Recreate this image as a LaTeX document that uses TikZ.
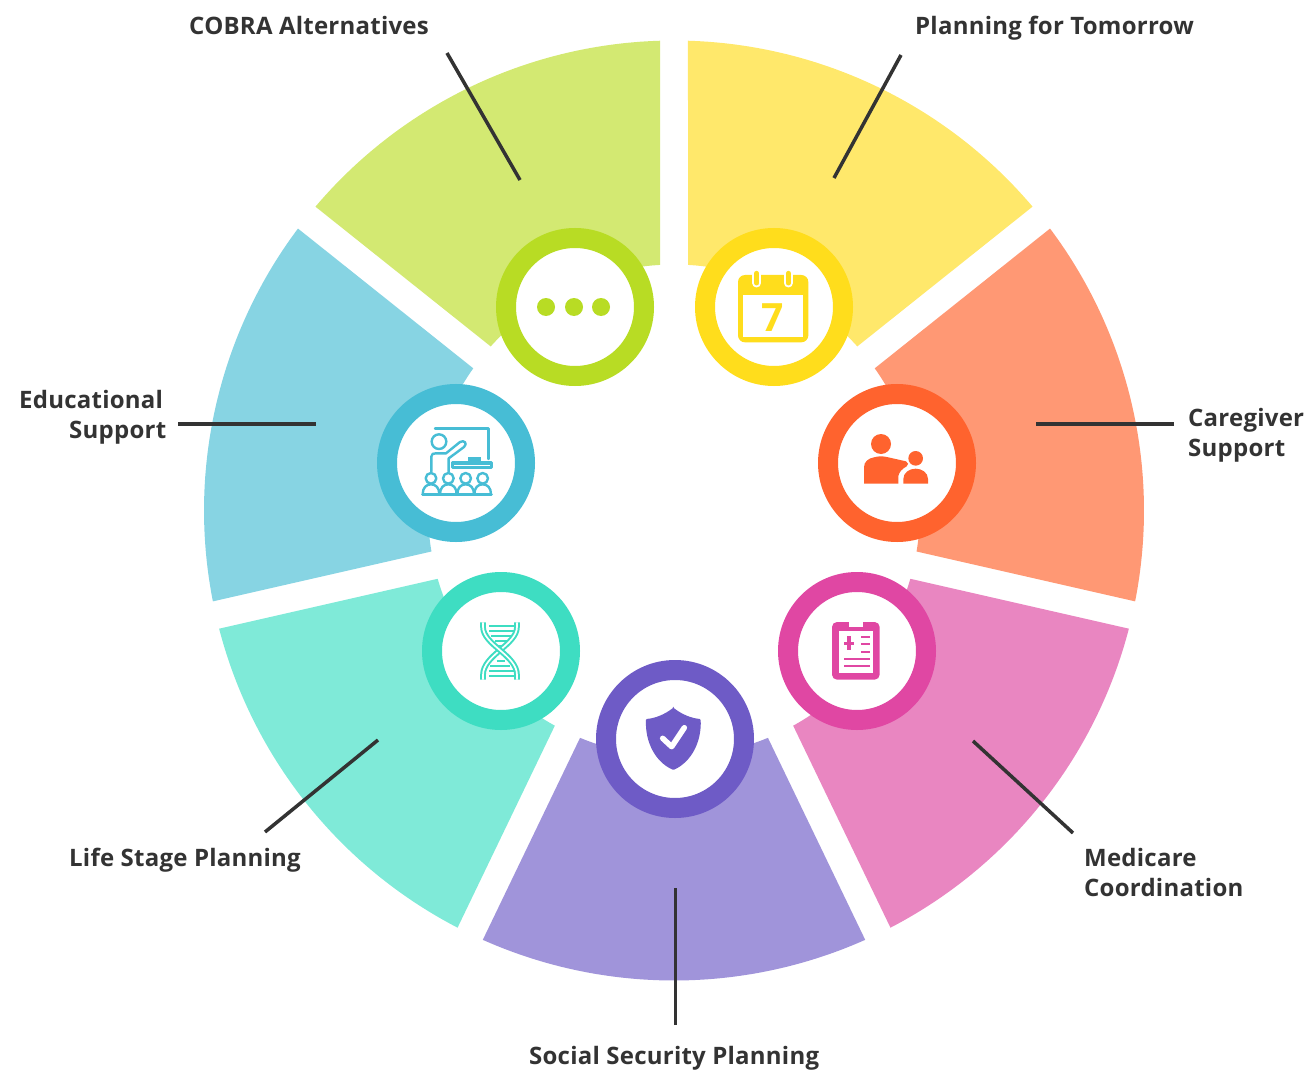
\documentclass[tikz,border=0pt]{standalone}
\usepackage{fontspec}
\setmainfont{Open Sans}[BoldFont={* Bold},LetterSpace=1]
\definecolor{ink}{HTML}{333333}
\definecolor{yellowS}{HTML}{FFE86B}\definecolor{yellowR}{HTML}{FFDD1C}
\definecolor{orangeS}{HTML}{FF9874}\definecolor{orangeR}{HTML}{FF632E}
\definecolor{pinkS}{HTML}{E986C1}\definecolor{pinkR}{HTML}{E047A3}
\definecolor{purpleS}{HTML}{A094DA}\definecolor{purpleR}{HTML}{6E5BC6}
\definecolor{tealS}{HTML}{7FEAD8}\definecolor{tealR}{HTML}{3EDDC2}
\definecolor{blueS}{HTML}{87D4E3}\definecolor{blueR}{HTML}{47BDD5}
\definecolor{limeS}{HTML}{D3E972}\definecolor{limeR}{HTML}{B8DC24}
\tikzset{
  ring/.style={circle,draw=#1,fill=white,line width=20pt,minimum size=138pt,inner sep=0pt,outer sep=0pt},
  lbl/.style={font=\fontsize{24}{30}\selectfont\bfseries,text=ink,anchor=base west,inner sep=0pt,align=left},
  leader/.style={draw=ink,line width=3.5pt},
  zoomed/.style={scale=1/3}
}
\newcommand{\sector}[3]{% colour, start gap angle, end gap angle (start>end)
  \fill[#1] plot[domain={#2-1.707}:{#3+1.707},samples=80] ({674+470*cos(\x)},{510.5-470*sin(\x)})
    -- plot[domain={#3+3.262}:{#2-3.262},samples=50] ({674+246*cos(\x)},{510.5-246*sin(\x)}) -- cycle;}
\begin{document}
\begin{tikzpicture}[x=1pt,y=-1pt]
\useasboundingbox (0,0) rectangle (1310,1070);
\sector{yellowS}{90}{38.571}
\sector{orangeS}{38.571}{-12.857}
\sector{pinkS}{-12.857}{-64.286}
\sector{purpleS}{-64.286}{-115.714}
\sector{tealS}{-115.714}{-167.143}
\sector{blueS}{-167.143}{-218.571}
\sector{limeS}{141.429}{90}
% labels
\node[lbl] (tPlan) at (915,34.5) {Planning for Tomorrow};
\node[lbl] (tCobra) at (189,34.5) {COBRA Alternatives};
\node[lbl] (tEdu) at (19,438) {Educational\\\hspace*{50pt}Support};
\node[lbl] (tCare) at (1188,456) {Caregiver\\Support};
\node[lbl] (tLife) at (69,866) {Life Stage Planning};
\node[lbl] (tMed) at (1084,896) {Medicare\\Coordination};
\node[lbl] (tSoc) at (529,1064) {Social Security Planning};
% leaders
\coordinate (a1) at (901,55); \coordinate (b1) at (834,178);
\coordinate (a2) at (447,53); \coordinate (b2) at (520,180);
\coordinate (a3) at (178,424); \coordinate (b3) at (316,424);
\coordinate (a4) at (1174,424); \coordinate (b4) at (1036,424);
\coordinate (a5) at (265,832); \coordinate (b5) at (378,740);
\coordinate (a6) at (1073,833); \coordinate (b6) at (973,741);
\coordinate (a7) at (675.5,1025); \coordinate (b7) at (675.5,888);
\foreach \i in {1,...,7} \draw[leader] (a\i) -- (b\i);
% rings
\node[ring=yellowR] (rYellow) at (774,307) {};
\node[ring=orangeR] (rOrange) at (897,463) {};
\node[ring=pinkR] (rPink) at (857,651) {};
\node[ring=purpleR] (rPurple) at (675,739) {};
\node[ring=tealR] (rTeal) at (501,651) {};
\node[ring=blueR] (rBlue) at (456,463) {};
\node[ring=limeR] (rLime) at (575,307) {};
% lime dots
\foreach \x in {546,574,601} \fill[limeR] (\x,307) circle (9);
% calendar
\begin{scope}[shift={(690,225)},zoomed]
  \fill[yellowR,rounded corners=7pt] (144,150) rectangle (355,352);
  \fill[white] (160,210) rectangle (340,335);
  \foreach \x in {200,295}{
    \draw[white,line width=9pt,line cap=round] (\x,145) -- (\x,174);
    \draw[yellowR,line width=5pt,line cap=round] (\x,145) -- (\x,174);}
  \node[font=\fontsize{39}{39}\selectfont\bfseries,text=yellowR,inner sep=0pt] (seven) at (248,277) {7};
\end{scope}
% caregiver
\begin{scope}[shift={(810,380)},zoomed]
  \fill[orangeR] (213,192) circle (30);
  \fill[orangeR] (317,235) circle (22);
  \fill[orangeR] (162,311) -- (162,262) .. controls (162,245) and (175,235) .. (192,232)
    .. controls (205,228) and (220,228) .. (235,232) -- (288,244) .. controls (296,247) and (296,255) .. (290,259)
    .. controls (278,266) and (268,274) .. (265,288) -- (265,311) -- cycle;
  \fill[orangeR] (280,311) -- (280,297) .. controls (280,278) and (298,266) .. (317,266)
    .. controls (336,266) and (354,278) .. (354,297) -- (354,311) -- cycle;
\end{scope}
% clipboard
\begin{scope}[shift={(770,565)},zoomed]
  \fill[pinkR,rounded corners=5pt] (186,171) rectangle (329,344);
  \fill[white] (237,169) rectangle (279,186);
  \fill[white] (207,198) rectangle (308,323);
  \fill[pinkR] (222,230) rectangle (252,241);
  \fill[pinkR] (232,214) rectangle (243,256);
  \foreach \y in {216,238,261} \draw[pinkR,line width=2.2pt] (273,\y) -- (301,\y);
  \foreach \y in {283,304} \draw[pinkR,line width=2.2pt] (222,\y) -- (301,\y);
\end{scope}
% shield
\begin{scope}[shift={(590,655)},zoomed]
  \fill[purpleR,rounded corners=1pt] (250,158) .. controls (225,178) and (195,190) .. (168,192)
    .. controls (165,260) and (195,320) .. (250,345)
    .. controls (305,320) and (335,260) .. (332,192)
    .. controls (305,190) and (275,178) .. (250,158) -- cycle;
  \draw[white,line width=5.5pt,line cap=round,line join=round] (218,250) -- (245,275) -- (283,218);
\end{scope}
% dna
\begin{scope}[shift={(415,565)},zoomed]
  \foreach \y/\l/\r in {183/222/298,198/222/298,213/228/290,228/240/275,243/250/268,287/245/270,303/225/285,318/222/298,333/222/298}
    \draw[tealR,line width=2pt] (\l,\y) -- (\r,\y);
  \draw[tealR,line width=2pt,double=white,double distance=1.7pt]
    (306,172) -- (306,185) .. controls (306,240) and (204,270) .. (204,330) -- (204,344);
  \draw[tealR,line width=2pt,double=white,double distance=1.7pt]
    (204,172) -- (204,185) .. controls (204,240) and (306,270) .. (306,330) -- (306,344);
\end{scope}
% teacher
\begin{scope}[shift={(370,375)},zoomed,blueR,line width=2.4pt,line join=round,line cap=round]
  \draw[blueR] (195,160) -- (355,160) -- (355,252);
  \draw[blueR] (248,263) rectangle (365,277);
  \fill[blueR] (295,245) rectangle (333,262);
  \fill[blueR] (248,265) rectangle (365,270);
  \draw[blueR] (207,200) circle (22);
  \draw[blueR] (184,290) -- (184,245) .. controls (184,236) and (190,235) .. (198,235)
    -- (228,235) -- (270,201) .. controls (282,194) and (294,205) .. (282,216)
    -- (243,245) -- (236,250) -- (236,290);
  \foreach \x in {183,235,287,338}{
    \draw[blueR] (\x,310) circle (16);
    \draw[blueR,fill=white] (\x-25,358) .. controls (\x-25,338) and (\x-14,328) .. (\x,328)
       .. controls (\x+14,328) and (\x+25,338) .. (\x+25,358);}
  \draw[blueR,line width=3pt] (158,359) -- (364,359);
\end{scope}
\end{tikzpicture}
\end{document}
